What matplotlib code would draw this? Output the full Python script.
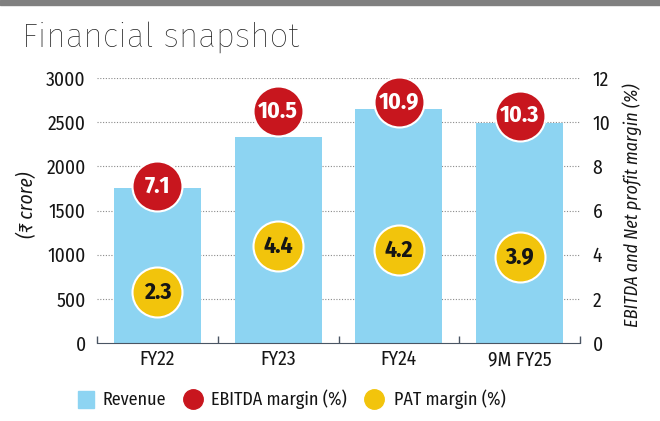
import matplotlib
matplotlib.use("Agg")
import matplotlib.pyplot as plt
from matplotlib.lines import Line2D
from matplotlib.patches import Rectangle

categories = ["FY22", "FY23", "FY24", "9M FY25"]
revenue = [1750, 2330, 2650, 2490]
ebitda_margin = [7.1, 10.5, 10.9, 10.3]
pat_margin = [2.3, 4.4, 4.2, 3.9]
left_ticks = [0, 500, 1000, 1500, 2000, 2500, 3000]
right_ticks = [0, 2, 4, 6, 8, 10, 12]

FAM = ["Fira Sans Condensed", "DejaVu Sans"]
plt.rcParams["font.family"] = FAM

BLUE = "#8dd4f2"
RED = "#c8161e"
YEL = "#f2c40c"
AX = "#4a5563"
TXT = "#151515"

W, H = 660, 421
fig = plt.figure(figsize=(W / 100, H / 100), dpi=100)
fig.patch.set_facecolor("white")

# top grey band
fig.add_artist(Rectangle((0, 1 - 5 / H), 1, 5 / H, transform=fig.transFigure,
                         color="#808080", zorder=0))
fig.text(22 / W, 1 - 37 / H, "Financial snapshot", fontsize=24, color="#1e1e1e",
         family=["Fira Sans", "DejaVu Sans"], fontweight="light", va="center", ha="left")

x0, x1, y0, y1 = 97, 580, 343, 78
ax = fig.add_axes([x0 / W, 1 - y0 / H, (x1 - x0) / W, (y0 - y1) / H])
ax2 = ax.twinx()

xs = list(range(len(categories)))
ax.bar(xs, revenue, width=0.72, color=BLUE, zorder=2)
ax.set_xlim(-0.5, len(categories) - 0.5)
ax.set_ylim(0, 3000)
ax.set_yticks(left_ticks)
ax.set_yticklabels([str(t) for t in left_ticks], fontsize=14)
ax.tick_params(axis="y", length=0, pad=8, colors=TXT)
for t in left_ticks[1:]:
    ax.axhline(t, color="#8a8a8a", lw=0.8, ls=(0, (1, 1.5)), zorder=1)

ax.set_xticks([i - 0.5 for i in range(len(categories) + 1)])
ax.set_xticklabels([])
ax.tick_params(axis="x", which="major", direction="in", length=5, color=AX, width=1)
ax.set_xticks(xs, minor=True)
ax.set_xticklabels(categories, minor=True, fontsize=14, color=TXT)
ax.tick_params(axis="x", which="minor", length=0, pad=5)

for s in ["top", "left", "right"]:
    ax.spines[s].set_visible(False)
    ax2.spines[s].set_visible(False)
ax.spines["bottom"].set_color(AX)
ax2.spines["bottom"].set_visible(False)

ax2.set_ylim(0, 12)
ax2.set_yticks(right_ticks)
ax2.set_yticklabels([str(t) for t in right_ticks], fontsize=14)
ax2.tick_params(axis="y", length=0, pad=9, colors=TXT)

ms = 36
ax2.plot(xs, ebitda_margin, "o", ms=ms, color=RED, mec="white", mew=1.5,
         ls="none", zorder=5, clip_on=False)
ax2.plot(xs, pat_margin, "o", ms=ms, color=YEL, mec="white", mew=1.5,
         ls="none", zorder=5, clip_on=False)
for x, v in zip(xs, ebitda_margin):
    ax2.text(x, v, f"{v}", ha="center", va="center", color="white",
             fontsize=17, fontweight="bold", zorder=6)
for x, v in zip(xs, pat_margin):
    ax2.text(x, v, f"{v}", ha="center", va="center", color=TXT,
             fontsize=17, fontweight="bold", zorder=6)

fig.text(27 / W, 1 - 205 / H, "(₹ crore)", rotation=90, fontsize=14,
         style="italic", ha="center", va="center", color=TXT)
fig.text(632 / W, 1 - 205 / H, "EBITDA and Net profit margin (%)", rotation=90,
         fontsize=13, style="italic", ha="center", va="center", color=TXT)

# legend
ly = 1 - 399 / H
fig.add_artist(Rectangle((78 / W, ly - 8.5 / H), 16 / W, 17 / H,
                         transform=fig.transFigure, color=BLUE))
fig.text(102 / W, ly - 1 / H, "Revenue", fontsize=13, va="center", ha="left", color=TXT)
fig.add_artist(Line2D([193 / W], [ly], marker="o", ms=14, color=RED,
                      transform=fig.transFigure))
fig.text(211 / W, ly, "EBITDA margin (%)", fontsize=13, va="center", ha="left", color=TXT)
fig.add_artist(Line2D([374 / W], [ly], marker="o", ms=14, color=YEL,
                      transform=fig.transFigure))
fig.text(394 / W, ly, "PAT margin (%)", fontsize=13, va="center", ha="left", color=TXT)

fig.savefig("out.png", dpi=100)
